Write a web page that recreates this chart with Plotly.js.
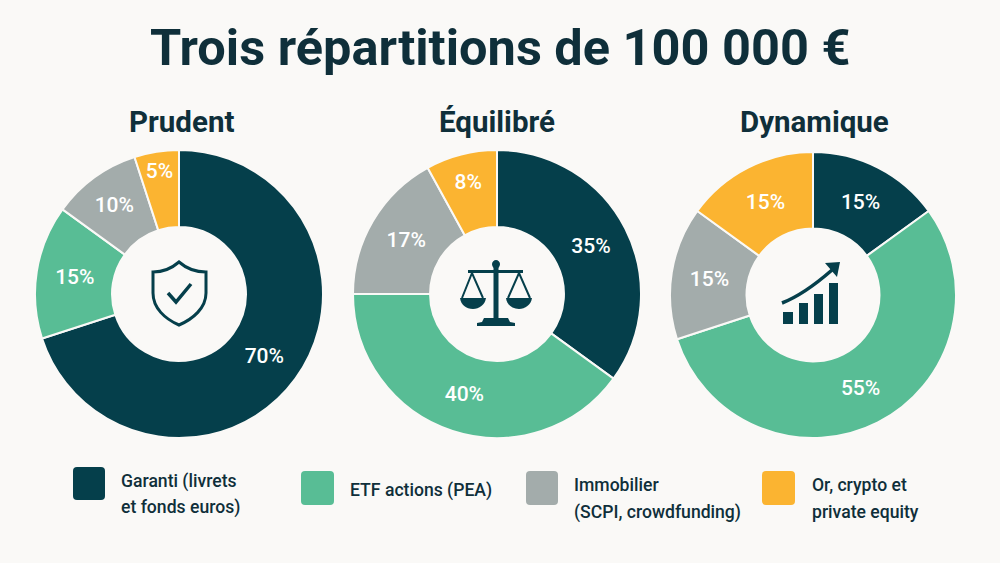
<!DOCTYPE html>
<html>
<head>
<meta charset="utf-8">
<script src="https://cdn.plot.ly/plotly-3.0.1.min.js"></script>
<style>html,body{margin:0;padding:0;background:#faf9f7}</style>
</head>
<body>
<div id="myDiv" style="width:1000px;height:563px"></div>
<script>
var categories = ['Garanti (livrets et fonds euros)', 'ETF actions (PEA)', 'Immobilier (SCPI, crowdfunding)', 'Or, crypto et private equity'];
var legendLines = [['Garanti (livrets', 'et fonds euros)'], ['ETF actions (PEA)'], ['Immobilier', '(SCPI, crowdfunding)'], ['Or, crypto et', 'private equity']];
var prudent = [70, 15, 10, 5];
var equilibre = [35, 40, 17, 8];
var dynamique = [15, 55, 15, 15];
var colors = ['#053f4b', '#58bd95', '#a3acab', '#fbb431'];

var W = 1000, H = 563;
var bg = '#faf9f7', ink = '#0f2f3a', dark = '#053f4b';
var FONT = 'Roboto, sans-serif';

function px(x) { return x / W; }
function py(y) { return 1 - y / H; }

function pie(values, cx, cy, r, name) {
  return {
    type: 'pie',
    name: name,
    values: values,
    labels: categories,
    sort: false,
    direction: 'clockwise',
    rotation: 0,
    hole: 0.465,
    textinfo: 'percent',
    textposition: 'inside',
    insidetextorientation: 'horizontal',
    insidetextfont: {family: FONT, size: 21, color: '#ffffff', weight: 500},
    marker: {colors: colors, line: {color: bg, width: 2}},
    domain: {x: [px(cx - r), px(cx + r)], y: [py(cy + r), py(cy - r)]},
    showlegend: false,
    hoverinfo: 'label+percent'
  };
}

var data = [
  pie(prudent, 179, 294, 144, 'Prudent'),
  pie(equilibre, 497, 294, 144, 'Équilibré'),
  pie(dynamique, 813, 295, 143, 'Dynamique')
];

// path given in page pixels -> paper coordinates
function pathPx(d) {
  var i = 0;
  return d.replace(/-?\d+(\.\d+)?/g, function (n) {
    var v = parseFloat(n);
    var out = (i % 2 === 0) ? px(v) : py(v);
    i++;
    return out.toFixed(5);
  });
}
function icon(d, fill, width) {
  return {
    type: 'path', xref: 'paper', yref: 'paper', layer: 'above',
    path: pathPx(d),
    fillcolor: fill ? dark : 'rgba(0,0,0,0)',
    line: {color: dark, width: width || 0}
  };
}
function swatch(x0, y0, x1, y1, color) {
  var r = 4;
  var d = 'M' + (x0 + r) + ' ' + y0 + ' L' + (x1 - r) + ' ' + y0 + ' Q' + x1 + ' ' + y0 + ' ' + x1 + ' ' + (y0 + r) +
    ' L' + x1 + ' ' + (y1 - r) + ' Q' + x1 + ' ' + y1 + ' ' + (x1 - r) + ' ' + y1 +
    ' L' + (x0 + r) + ' ' + y1 + ' Q' + x0 + ' ' + y1 + ' ' + x0 + ' ' + (y1 - r) +
    ' L' + x0 + ' ' + (y0 + r) + ' Q' + x0 + ' ' + y0 + ' ' + (x0 + r) + ' ' + y0 + ' Z';
  return {type: 'path', xref: 'paper', yref: 'paper', path: pathPx(d), fillcolor: color, line: {width: 0}};
}

var shapes = [
  swatch(73, 467, 105, 500, colors[0]),
  swatch(301, 471, 334, 505, colors[1]),
  swatch(526, 471, 558, 505, colors[2]),
  swatch(762, 471, 795, 505, colors[3]),
  // bouclier
  icon('M179 262 C171 269 162 272 153 272 L153 293 C153 308 165 319 179 325 C193 319 206 308 206 293 L206 272 C196 272 187 269 179 262 Z', false, 3),
  icon('M168 293 L176 302 L191 284', false, 3.5),
  // balance
  icon('M496 260 C498 260 500 262 500 264 C500 266 499 267 498.5 268 L498.5 318 L493.5 318 L493.5 268 C493 267 492 266 492 264 C492 262 494 260 496 260 Z', true),
  icon('M468 270 L523 270 L523 273 L468 273 Z', true),
  icon('M462 298 L472 273 L483 298', false, 2),
  icon('M508 298 L519 273 L530 298', false, 2),
  icon('M460 298 L486 298 C485 305 479 309 473 309 C466 309 461 305 460 298 Z', true),
  icon('M506 298 L532 298 C531 305 525 309 519 309 C512 309 507 305 506 298 Z', true),
  icon('M484 318 L508 318 L510 322 L515 323 L515 326 L477 326 L477 323 L482 322 Z', true),
  // barres et fleche
  icon('M783 312 L793 312 L793 324 L783 324 Z', true),
  icon('M799 303 L808 303 L808 324 L799 324 Z', true),
  icon('M814 294 L823 294 L823 324 L814 324 Z', true),
  icon('M829 283 L838 283 L838 324 L829 324 Z', true),
  icon('M782 303 C800 296 816 284 832 270', false, 3.5),
  icon('M825 263 L840 262 L837 277 Z', true)
];

function label(text, x, y, size, weight, anchor) {
  return {
    xref: 'paper', yref: 'paper', x: px(x), y: py(y),
    text: text, showarrow: false,
    xanchor: anchor || 'center', yanchor: 'middle', align: anchor || 'center',
    font: {family: FONT, size: size, color: ink, weight: weight}
  };
}

var annotations = [
  label('Trois répartitions de 100 000 €', 500, 47, 50.5, 700),
  label('Prudent', 181, 122, 29.5, 700),
  label('Équilibré', 497, 122, 29.5, 700),
  label('Dynamique', 814, 122, 29.5, 700),
  label(legendLines[0][0], 119, 481, 17.6, 500, 'left'),
  label(legendLines[0][1], 119, 507, 17.6, 500, 'left'),
  label(legendLines[1][0], 348, 490, 17.6, 500, 'left'),
  label(legendLines[2][0], 572, 485, 17.6, 500, 'left'),
  label(legendLines[2][1], 572, 512, 17.6, 500, 'left'),
  label(legendLines[3][0], 810, 485, 17.6, 500, 'left'),
  label(legendLines[3][1], 810, 512, 17.6, 500, 'left')
];

var layout = {
  width: W,
  height: H,
  margin: {l: 0, r: 0, t: 0, b: 0},
  paper_bgcolor: bg,
  plot_bgcolor: bg,
  showlegend: false,
  shapes: shapes,
  annotations: annotations
};

Plotly.newPlot('myDiv', data, layout, {displayModeBar: false});
</script>
</body>
</html>
